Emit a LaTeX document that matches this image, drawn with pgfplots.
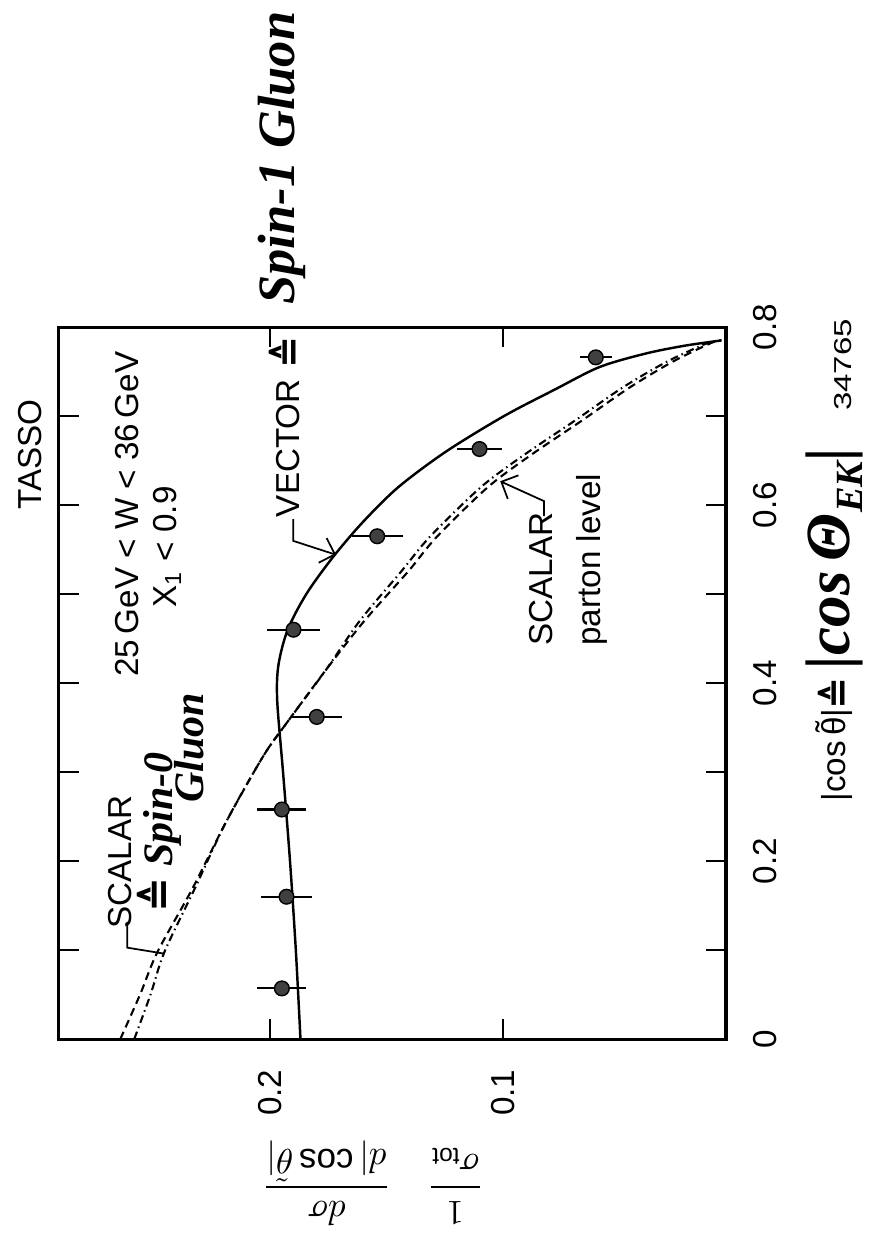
\documentclass[border=0pt]{standalone}
\usepackage{fontspec}
\setmainfont{Liberation Sans}
\newfontfamily\hand{Liberation Serif}
\newfontfamily\dejavu{DejaVu Sans}
\usepackage{graphicx}
\usepackage{pgfplots}
\pgfplotsset{compat=1.18}
\usetikzlibrary{arrows.meta}

% image px -> axis description cs: ax=(X-59)/671, ay=(1038-Y)/716
\newcommand{\txt}{\fontsize{9.5}{11}\selectfont}
\newcommand{\eq}{{\dejavu\bfseries ≙}}
\newcommand{\ttheta}{\makebox[0pt][l]{\hspace{0.11em}\raisebox{0.2em}{˜}}θ}

\begin{document}
\begin{tikzpicture}
\begin{axis}[
    scale only axis,
    width=6.71cm, height=7.16cm,
    x dir=reverse,
    xmin=0.004, xmax=0.291,
    ymin=0, ymax=0.8,
    xtick={0.1,0.2},
    ytick={0,0.2,0.4,0.6,0.8},
    minor ytick={0.1,0.3,0.5,0.7},
    tick align=inside,
    major tick length=2mm, minor tick length=2mm,
    tick style={line width=0.6pt, black},
    axis line style={line width=0.9pt},
    yticklabel pos=right,
    /pgf/number format/assume math mode=true,
    xticklabel style={rotate=90, anchor=east, inner sep=0pt, font=\txt},
    yticklabel style={rotate=90, anchor=north, inner sep=0pt, font=\txt},
    xticklabel shift=3mm,
    yticklabel shift=2.7mm,
    clip=false,
]
% vector (spin-1)
\addplot[black, line width=0.7pt, smooth] coordinates {
    (0.187,0) (0.189,0.10) (0.1915,0.20) (0.1945,0.30) (0.197,0.38)
    (0.1965,0.42) (0.1925,0.46) (0.1845,0.50) (0.1735,0.54) (0.1605,0.58)
    (0.145,0.62) (0.1245,0.66) (0.0995,0.70) (0.0775,0.73) (0.0585,0.755)
    (0.039,0.77) (0.022,0.779) (0.006,0.785)
};
% scalar (hadron level)
\addplot[black, line width=0.6pt, smooth, dash pattern=on 0.8mm off 0.5mm] coordinates {
    (0.2645,0) (0.256,0.05) (0.2485,0.098) (0.2335,0.169) (0.219,0.244)
    (0.203,0.318) (0.193,0.355) (0.176,0.415) (0.1595,0.47) (0.1405,0.526)
    (0.1285,0.564) (0.1065,0.62) (0.0875,0.657) (0.0665,0.694) (0.0455,0.732)
    (0.027,0.761) (0.0105,0.782) (0.006,0.785)
};
% scalar (parton level)
\addplot[black, line width=0.6pt, smooth, dash pattern=on 0.8mm off 0.4mm on 0.15mm off 0.4mm] coordinates {
    (0.2585,0) (0.2515,0.05) (0.2455,0.098) (0.2325,0.169) (0.219,0.244)
    (0.203,0.318) (0.193,0.355) (0.176,0.415) (0.1615,0.47) (0.1435,0.526)
    (0.1315,0.564) (0.1095,0.62) (0.0905,0.657) (0.0695,0.694) (0.0485,0.732)
    (0.0295,0.761) (0.012,0.782) (0.006,0.785)
};
% TASSO data
\addplot[only marks, mark=*, mark size=2.1pt, mark options={fill=black!75, draw=black},
    error bars/.cd, x dir=both, x explicit, error mark=none,
    error bar style={line width=0.6pt, black}] coordinates {
    (0.195,0.057) +- (0.0105,0)
    (0.193,0.160) +- (0.011,0)
    (0.195,0.258) +- (0.0105,0)
    (0.180,0.362) +- (0.011,0)
    (0.190,0.460) +- (0.0115,0)
    (0.154,0.565) +- (0.011,0)
    (0.110,0.663) +- (0.0095,0)
    (0.060,0.766) +- (0.007,0)
};

% fixes the picture to the reference's proportions
\path (axis description cs:-0.0879,-0.2849) rectangle (axis description cs:1.2191,1.4497);

\node[rotate=90, font=\txt] at (axis description cs:-0.0432,0.821) {TASSO};
\node[rotate=90, font=\txt] at (axis description cs:0.1028,0.7374) {25\,GeV < W < 36\,GeV};
\node[rotate=90, font=\txt] at (axis description cs:0.1624,0.6913) {X\textsubscript{1} < 0.9};

\node[rotate=90, font=\txt] at (axis description cs:0.344,0.830) {VECTOR};
\node[rotate=90, font=\fontsize{11}{12}\selectfont] at (axis description cs:0.340,0.964) {\eq};
\node[rotate=90, font=\hand\bfseries\itshape\fontsize{15}{16}\selectfont] at (axis description cs:0.335,1.2374) {Spin-1 Gluon};
\draw[line width=0.5pt, -{Straight Barb[length=1.3mm]}] (axis description cs:0.3517,0.7304) -- (axis description cs:0.3517,0.6997) -- (axis description cs:0.4158,0.6802);

\node[rotate=90, font=\txt] at (axis description cs:0.0924,0.2486) {SCALAR};
\node[rotate=90, font=\hand\bfseries\itshape\fontsize{12}{13}\selectfont] at (axis description cs:0.1505,0.2905) {\eq\ Spin-0};
\node[rotate=90, font=\hand\bfseries\itshape\fontsize{12}{13}\selectfont] at (axis description cs:0.195,0.409) {Gluon};
\draw[line width=0.5pt] (axis description cs:0.1028,0.1648) -- (axis description cs:0.1028,0.1285) -- (axis description cs:0.158,0.1201);

\node[rotate=90, font=\txt, anchor=west, inner sep=0pt] at (axis description cs:0.7228,0.5517) {SCALAR};
\node[rotate=90, font=\txt, anchor=west, inner sep=0pt] at (axis description cs:0.7988,0.5517) {parton level};
\draw[line width=0.5pt, -{Straight Barb[length=1.3mm]}] (axis description cs:0.7273,0.7346) -- (axis description cs:0.7273,0.7556) -- (axis description cs:0.6617,0.7835);

% axis titles
\node[rotate=180, font=\fontsize{10}{12}\selectfont] at (axis description cs:0.471,-0.2025)
    {$\displaystyle\frac{1}{\sigma_{\mathrm{tot}}}\quad\frac{d\sigma}{d|\cos\tilde{\theta}|}$};
\node[rotate=90, font=\txt] at (axis description cs:1.162,0.399) {|cos\,\ttheta|};
\node[rotate=90, font=\fontsize{11}{12}\selectfont] at (axis description cs:1.162,0.485) {\eq};
\node[rotate=90, font=\hand\bfseries\itshape\fontsize{18}{19}\selectfont] at (axis description cs:1.162,0.675)
    {|cos\,Θ\raisebox{-0.45ex}{\fontsize{11}{12}\selectfont EK}|};
\node[rotate=90] at (axis description cs:1.176,0.947) {\scalebox{1.35}[1]{\fontsize{7}{8}\selectfont 34765}};
\end{axis}
\end{tikzpicture}
\end{document}
